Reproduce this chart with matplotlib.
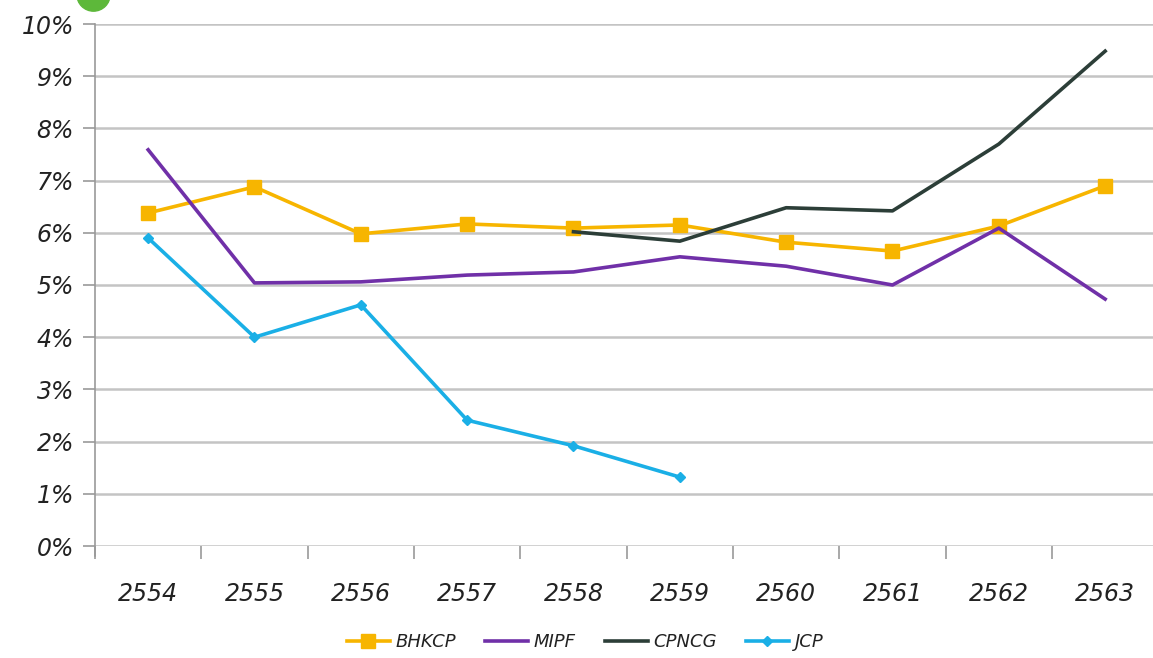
import matplotlib
matplotlib.use("Agg")
import matplotlib.pyplot as plt
from matplotlib.lines import Line2D

# données (% par année)
annees = ["2554", "2555", "2556", "2557", "2558", "2559", "2560", "2561", "2562", "2563"]
bhkcp = [6.38, 6.88, 5.98, 6.17, 6.09, 6.15, 5.82, 5.65, 6.13, 6.90]
mipf = [7.59, 5.04, 5.06, 5.19, 5.25, 5.54, 5.36, 5.00, 6.09, 4.73]
cpncg = [None, None, None, None, 6.02, 5.84, 6.48, 6.42, 7.70, 9.48]
jcp = [5.90, 4.00, 4.62, 2.41, 1.92, 1.32]

plt.rcParams['font.family'] = ['DejaVu Sans']

fig = plt.figure(figsize=(11.53, 6.58), dpi=100)
ax = fig.add_axes([95/1153, 1-546/658, 1-95/1153, (546-24)/658])

x = list(range(len(annees)))
xc = [i for i, v in zip(x, cpncg) if v is not None]
yc = [v for v in cpncg if v is not None]

ax.plot(x, bhkcp, color="#F7B500", lw=2.6, marker="s", ms=10, label="BHKCP", zorder=3)
ax.plot(x, mipf, color="#7030A8", lw=2.6, label="MIPF", zorder=3)
ax.plot(xc, yc, color="#2C3E38", lw=2.6, label="CPNCG", zorder=3)
ax.plot(x[:len(jcp)], jcp, color="#1AAFE6", lw=2.6, marker="D", ms=5.5, label="JCP", zorder=4)

ax.set_xlim(-0.49, 9.45)
ax.set_ylim(0, 10)
ax.set_yticks(range(0, 11))
ax.set_yticklabels([f"{i}%" for i in range(0, 11)], fontsize=17, style="italic", color="#222222")
ax.set_xticks(x)
ax.set_xticklabels(annees, fontsize=17, style="italic", color="#222222")
ax.set_xticks([i + 0.5 for i in range(-1, 9)], minor=True)
ax.tick_params(axis="x", which="major", length=0, pad=26)
ax.tick_params(axis="x", which="minor", length=9, color="#999999", width=1.2)
ax.tick_params(axis="y", length=9, color="#999999", width=1.2, pad=6)

ax.grid(axis="y", color="#c4c4c4", lw=1.8)
ax.set_axisbelow(True)
for s in ["top", "right", "bottom"]:
    ax.spines[s].set_visible(False)
ax.spines["left"].set_color("#999999")
ax.spines["left"].set_linewidth(1.2)
ax.spines["left"].set_bounds(-0.2, 10)

# petit rond vert en haut, coupé par le bord
fig.add_artist(Line2D([93/1153], [1 + 6/658], marker="o", ms=24, color="#5DB83A",
                      transform=fig.transFigure, clip_on=False))

leg = fig.legend(loc="center", bbox_to_anchor=(585/1153, 1-642/658), ncol=4, frameon=False,
                 prop={"size": 13, "style": "italic"}, handlelength=2.4, columnspacing=1.6,
                 handletextpad=0.3)
for t in leg.get_texts():
    t.set_color("#222222")

fig.savefig("out.png", dpi=100)
